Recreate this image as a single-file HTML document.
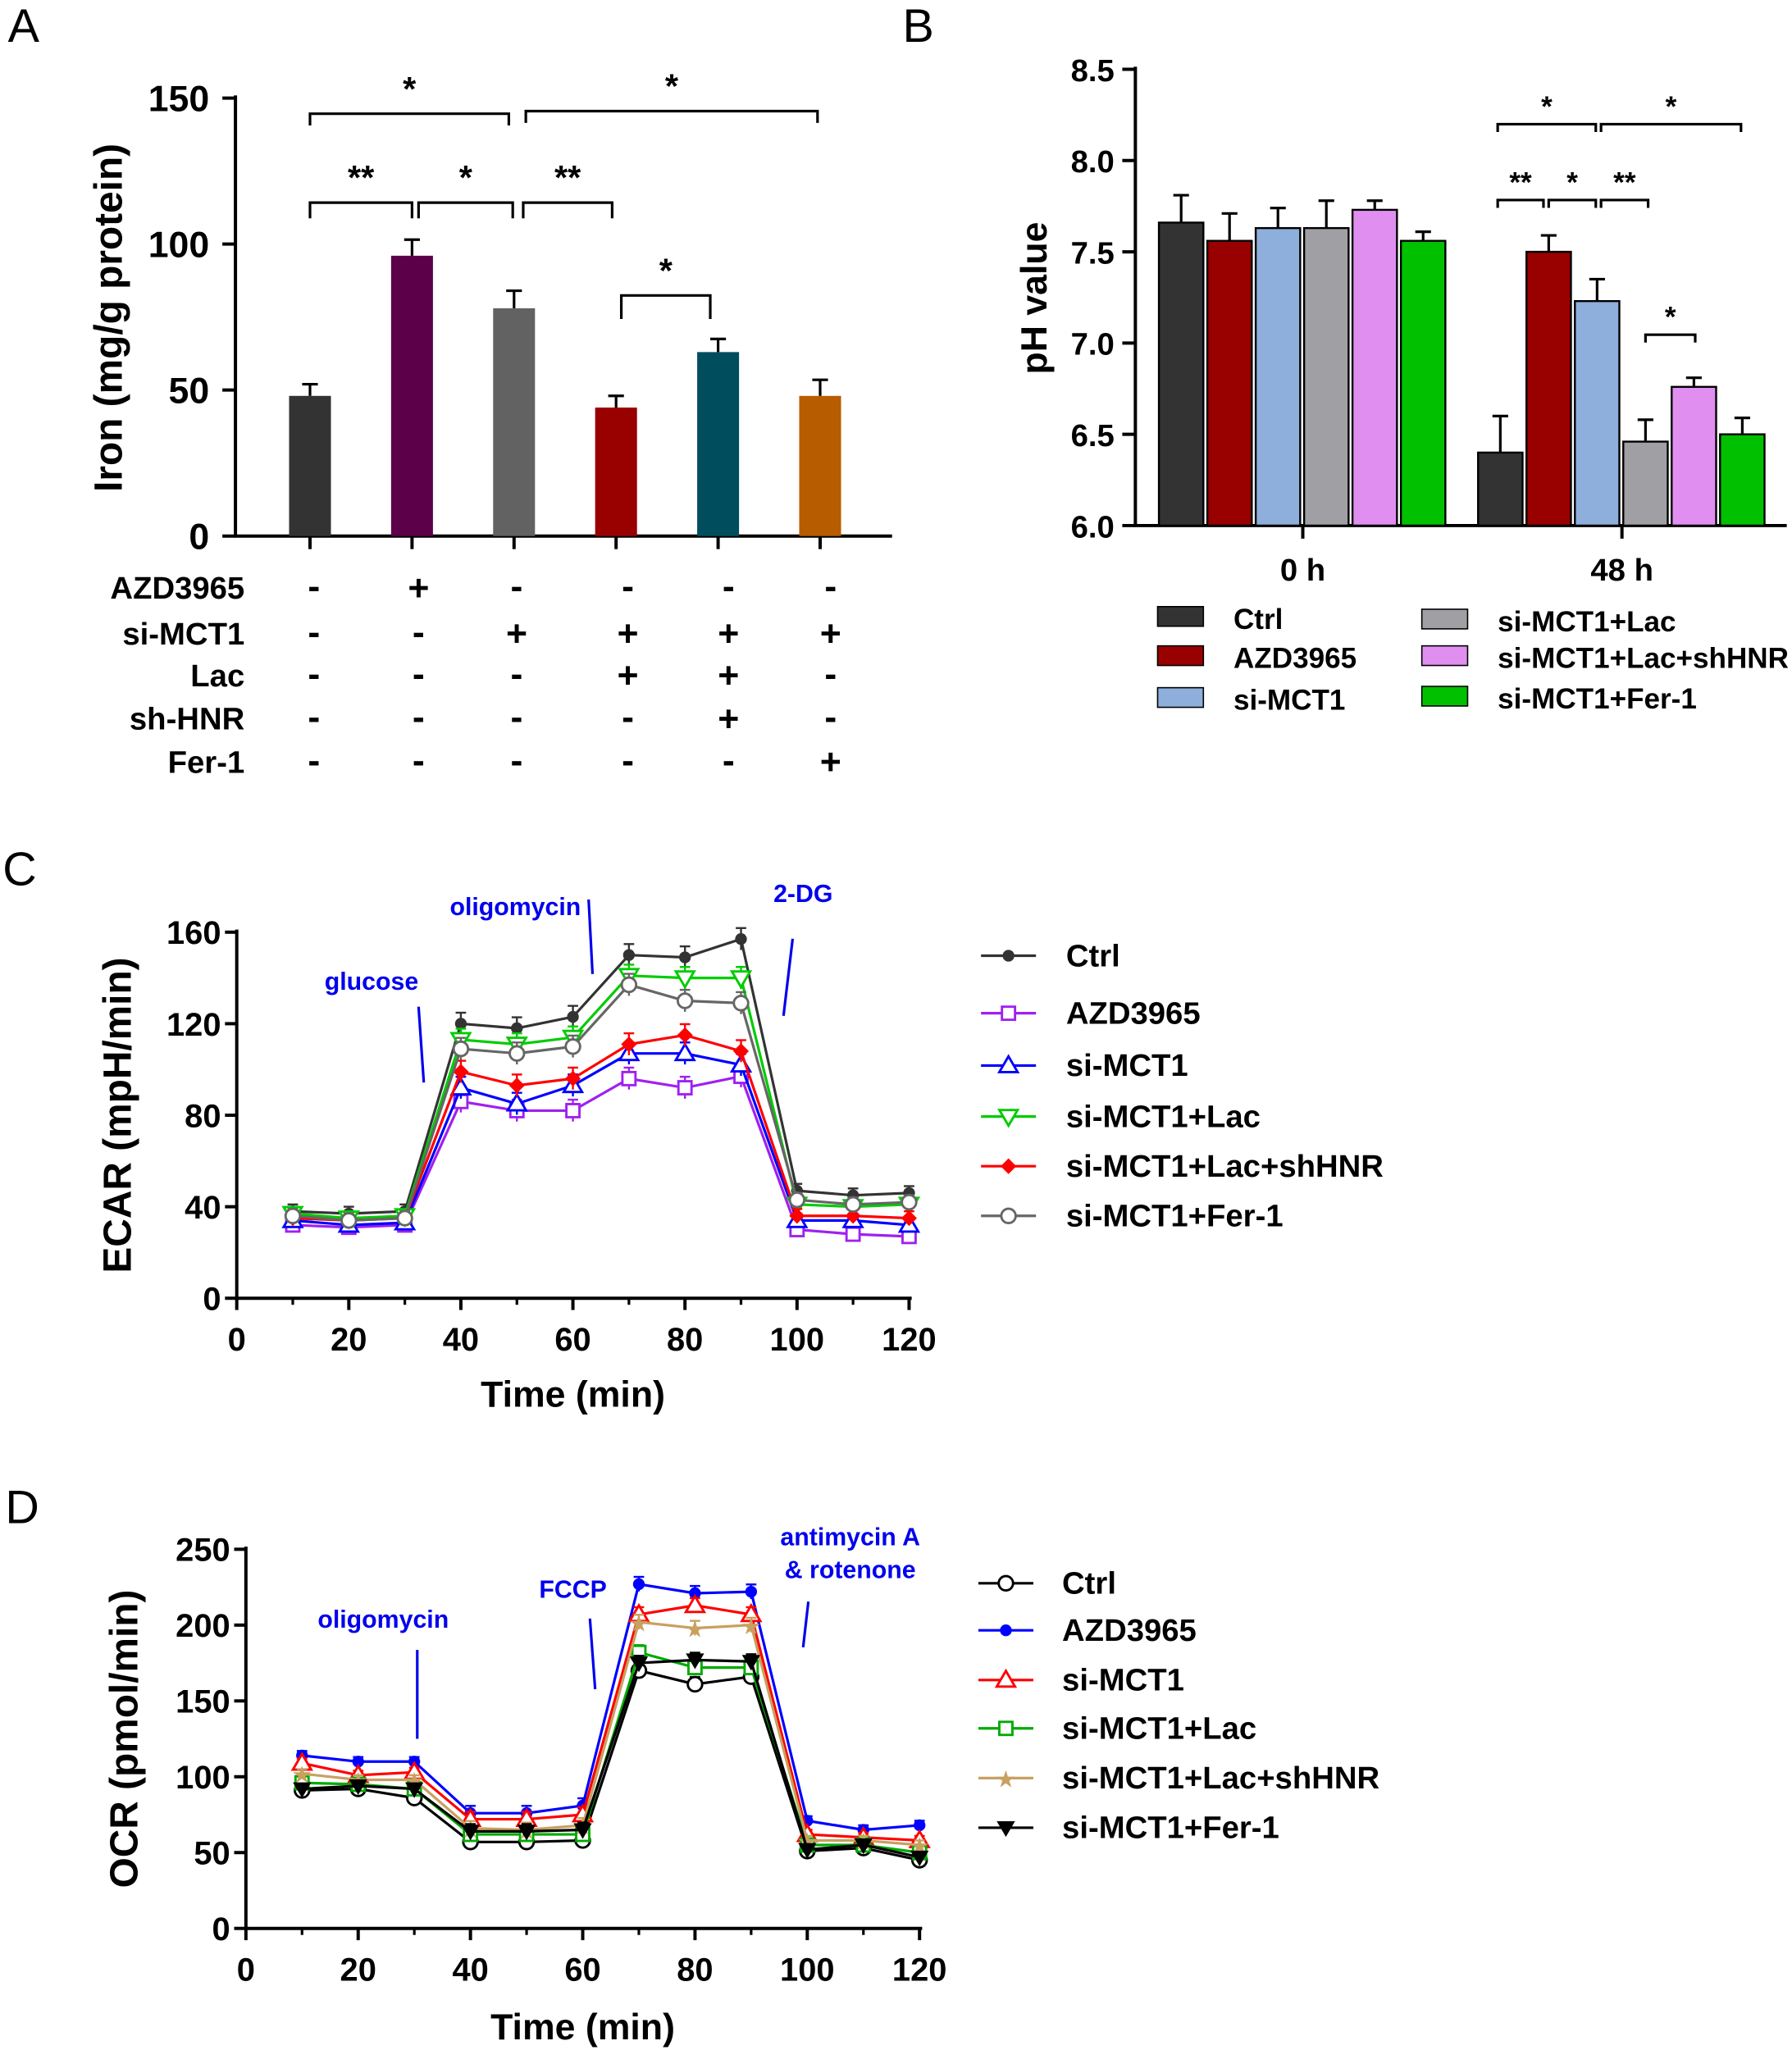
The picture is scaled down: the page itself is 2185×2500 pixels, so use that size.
<!DOCTYPE html>
<html><head><meta charset="utf-8"><style>
html,body{margin:0;padding:0;background:#fff;}
svg{display:block;}
text{font-family:"Liberation Sans",Arial,sans-serif;}
.b{font-weight:bold;}
</style></head><body>
<svg id="s" width="2185" height="2500" viewBox="0 0 1370 1568" preserveAspectRatio="none" xmlns="http://www.w3.org/2000/svg">
<rect width="1370" height="1568" fill="#fff"/>
<g font-size="36" fill="#000">
<text x="6" y="32">A</text><text x="690" y="32">B</text><text x="2" y="677">C</text><text x="4" y="1165">D</text>
</g>
<g id="A" stroke="#000" stroke-width="2.5" fill="none"></g>
<g id="B" stroke="#000" stroke-width="2.5" fill="none"></g>
<g id="C"></g>
<g id="D"></g>
</svg>
<script>
const NS="http://www.w3.org/2000/svg";
const S=document.getElementById('s');
function el(t,a,p,txt){const e=document.createElementNS(NS,t);for(const k in a)e.setAttribute(k,a[k]);if(txt!==undefined)e.textContent=txt;(p||S).appendChild(e);return e;}
function line(x1,y1,x2,y2,c,w,p){return el('line',{x1,y1,x2,y2,stroke:c||'#000','stroke-width':w||2.5},p);}
function txt(x,y,s,size,anchor,p,extra){const a={x,y,'font-size':size,'text-anchor':anchor||'middle','font-weight':'bold',fill:'#000'};Object.assign(a,extra||{});return el('text',a,p,s);}
// ---------- Panel A
(function(){
const y=v=>410-v*(335/150);
line(180,73,180,411);line(179,410,682,410);
[[0,'0'],[50,'50'],[100,'100'],[150,'150']].forEach(([v,l])=>{line(170,y(v),180,y(v));txt(160,y(v)+10,l,28,'end');});
const cx=[237,315,393,471,549,627],vals=[48,96,78,44,63,48],err=[4,5.5,6,4,4.5,5.5],
cols=['#333333','#5c004a','#626262','#990000','#004d5e','#b85c00'];
cx.forEach((c,i)=>{line(c,410,c,420);el('rect',{x:c-16,y:y(vals[i]),width:32,height:410-y(vals[i]),fill:cols[i]});
line(c,y(vals[i]),c,y(vals[i]+err[i]),'#000',2);line(c-6,y(vals[i]+err[i]),c+6,y(vals[i]+err[i]),'#000',2);});
el('text',{x:93,y:243,'font-size':30,'font-weight':'bold','text-anchor':'middle',transform:'rotate(-90 93 243)'},S,'Iron (mg/g protein)');
function br(x1,x2,yy,d,l){el('polyline',{points:`${x1},${yy+d} ${x1},${yy} ${x2},${yy} ${x2},${yy+d}`,fill:'none',stroke:'#000','stroke-width':2});txt((x1+x2)/2,yy-10,l,26);}
br(237,389,87,9,'*');br(402,625,85,9,'*');br(237,315,155,12,'**');br(320,392,155,12,'*');br(400,468,155,12,'**');br(475,543,226,18,'*');
const rows=[['AZD3965',450,['-','+','-','-','-','-']],['si-MCT1',485,['-','-','+','+','+','+']],['Lac',517,['-','-','-','+','+','-']],['sh-HNR',550,['-','-','-','-','+','-']],['Fer-1',583,['-','-','-','-','-','+']]];
const colx=[240,320,395,480,557,635];
rows.forEach(r=>{txt(187,r[1]+8,r[0],24,'end');r[2].forEach((s,i)=>txt(colx[i],r[1]+(s=='+'?9:8),s,28));});
})();
// ---------- Panel B
(function(){
const y=v=>402-(v-6)*139.6;
line(868,51,868,403);line(867,402,1366,402);
['6.0','6.5','7.0','7.5','8.0','8.5'].forEach(l=>{const v=+l;line(858,y(v),868,y(v));txt(852,y(v)+9,l,24,'end');});
line(996,402,996,412);line(1240,402,1240,412);
txt(996,444,'0 h',24);txt(1240,444,'48 h',24);
el('text',{x:800,y:228,'font-size':28,'font-weight':'bold','text-anchor':'middle',transform:'rotate(-90 800 228)'},S,'pH value');
const cols=['#333333','#990000','#8eaedb','#a0a0a4','#e08ff0','#00c000'];
const g=[[[903,940,977,1014,1051,1088],[7.66,7.56,7.63,7.63,7.73,7.56],[.15,.15,.11,.15,.05,.05]],
[[1147,1184,1221,1258,1295,1332],[6.40,7.50,7.23,6.46,6.76,6.50],[.2,.09,.12,.12,.05,.09]]];
g.forEach(([cx,v,e])=>cx.forEach((c,i)=>{el('rect',{x:c-17,y:y(v[i]),width:34,height:402-y(v[i]),fill:cols[i],stroke:'#000','stroke-width':1.5});
line(c,y(v[i]),c,y(v[i]+e[i]),'#000',2);line(c-6,y(v[i]+e[i]),c+6,y(v[i]+e[i]),'#000',2);}));
function br(x1,x2,yy,d,l){el('polyline',{points:`${x1},${yy+d} ${x1},${yy} ${x2},${yy} ${x2},${yy+d}`,fill:'none',stroke:'#000','stroke-width':2});txt((x1+x2)/2,yy-6,l,22);}
br(1145,1220,95,6,'*');br(1224,1331,95,6,'*');br(1145,1180,153,6,'**');br(1184,1220,153,6,'*');br(1224,1260,153,6,'**');br(1258,1296,256,6,'*');
const L=[['Ctrl',885,473,0],['AZD3965',885,503,1],['si-MCT1',885,535,2],['si-MCT1+Lac',1087,475,3],['si-MCT1+Lac+shHNR',1087,503,4],['si-MCT1+Fer-1',1087,534,5]];
L.forEach(([t,x,yy,i])=>{el('rect',{x,y:yy-9,width:35,height:15,fill:cols[i],stroke:'#000','stroke-width':1});txt(x+58,yy+8,t,22,'start');});
})();
// ---------- line charts
function marker(p,type,x,y,c){
 if(type=='fc')el('circle',{cx:x,cy:y,r:4.5,fill:c},p);
 if(type=='oc')el('circle',{cx:x,cy:y,r:5.5,fill:'#fff',stroke:c,'stroke-width':1.8},p);
 if(type=='os')el('rect',{x:x-5,y:y-5,width:10,height:10,fill:'#fff',stroke:c,'stroke-width':1.8},p);
 if(type=='ot')el('polygon',{points:`${x},${y-7} ${x-7},${y+5} ${x+7},${y+5}`,fill:'#fff',stroke:c,'stroke-width':1.8},p);
 if(type=='ov')el('polygon',{points:`${x},${y+7} ${x-7},${y-5} ${x+7},${y-5}`,fill:'#fff',stroke:c,'stroke-width':1.8},p);
 if(type=='fv')el('polygon',{points:`${x},${y+7} ${x-7},${y-5} ${x+7},${y-5}`,fill:c},p);
 if(type=='fd')el('polygon',{points:`${x},${y-6} ${x-6},${y} ${x},${y+6} ${x+6},${y}`,fill:c},p);
 if(type=='st')el('text',{x,y:y+7,'font-size':18,'text-anchor':'middle',fill:c},p,'★');
}
function chart(id,o){
 const p=document.getElementById(id);
 const X=t=>o.x0+t*(o.x1-o.x0)/120, Y=v=>o.yb-v*(o.yb-o.yt)/o.ymax;
 line(o.x0,o.yt-2,o.x0,o.yb+1,'#000',2.5,p);line(o.x0-1,o.yb,o.x1+2,o.yb,'#000',2.5,p);
 for(let v=0;v<=o.ymax;v+=o.ystep){line(o.x0-9,Y(v),o.x0,Y(v),'#000',2.5,p);txt(o.x0-12,Y(v)+9,''+v,25,'end',p);}
 for(let t=0;t<=120;t+=20){line(X(t),o.yb,X(t),o.yb+9,'#000',2.5,p);txt(X(t),o.yb+40,''+t,25,'middle',p);}
 for(let t=10;t<120;t+=20)line(X(t),o.yb,X(t),o.yb+5,'#000',2,p);
 txt((o.x0+o.x1)/2,o.tl,'Time (min)',28,'middle',p);
 el('text',{x:o.yl,y:(o.yt+o.yb)/2,'font-size':30,'font-weight':'bold','text-anchor':'middle',transform:`rotate(-90 ${o.yl} ${(o.yt+o.yb)/2})`},p,o.ylab);
 o.series.forEach(s=>{
  const pts=s.d.map((v,i)=>[X(10+i*10),Y(v)]);
  el('polyline',{points:pts.map(q=>q.join(',')).join(' '),fill:'none',stroke:s.c,'stroke-width':2},p);
  pts.forEach((q,i)=>{const e=(s.e||3)*(i>=3&&i<=8?1.6:1);line(q[0],q[1]-e*(o.yb-o.yt)/o.ymax,q[0],q[1]+e*(o.yb-o.yt)/o.ymax,s.c,1.5,p);
   line(q[0]-4,q[1]-e*(o.yb-o.yt)/o.ymax,q[0]+4,q[1]-e*(o.yb-o.yt)/o.ymax,s.c,1.5,p);marker(p,s.m,q[0],q[1],s.c);});
 });
 o.series.forEach((s,i)=>{const yy=o.ly[i];line(o.lx0,yy,o.lx0+42,yy,s.c,2,p);marker(p,s.m,o.lx0+21,yy,s.c);txt(o.ltx,yy+8,s.n,24,'start',p);});
 o.ann.forEach(a=>{if(a.t)a.t.forEach((t,k)=>txt(a.x,a.y+k*25,t,19,'middle',p,{fill:'#0000ee'}));line(a.l[0],a.l[1],a.l[2],a.l[3],'#0000ee',2,p);});
}
chart('C',{x0:181,x1:695,yt:713,yb:993,ymax:160,ystep:40,tl:1076,yl:100,ylab:'ECAR  (mpH/min)',lx0:750,ltx:815,ly:[731,775,815,854,892,930],
series:[
{n:'Ctrl',c:'#333',m:'fc',d:[38,37,38,120,118,123,150,149,157,47,45,46]},
{n:'AZD3965',c:'#a020f0',m:'os',d:[32,31,32,86,82,82,96,92,97,30,28,27]},
{n:'si-MCT1',c:'#0000ff',m:'ot',d:[34,32,33,92,85,93,107,107,102,34,34,32]},
{n:'si-MCT1+Lac',c:'#00cc00',m:'ov',d:[37,35,36,113,111,114,141,140,140,41,40,41]},
{n:'si-MCT1+Lac+shHNR',c:'#ff0000',m:'fd',d:[35,34,35,99,93,96,111,115,108,36,36,35]},
{n:'si-MCT1+Fer-1',c:'#666',m:'oc',d:[36,34,35,109,107,110,137,130,129,43,41,42]}],
ann:[{t:['glucose'],x:284,y:757,l:[320,770,324,828]},{t:['oligomycin'],x:394,y:700,l:[450,688,453,745]},{t:['2-DG'],x:614,y:690,l:[606,718,599,777]}]});
chart('D',{x0:188,x1:703,yt:1185,yb:1475,ymax:250,ystep:50,tl:1560,yl:105,ylab:'OCR  (pmol/min)',lx0:748,ltx:812,ly:[1211,1247,1285,1322,1360,1398],
series:[
{n:'Ctrl',c:'#000',m:'oc',d:[91,92,86,57,57,58,170,161,166,51,53,45]},
{n:'AZD3965',c:'#0000ff',m:'fc',d:[114,110,110,76,76,81,227,221,222,71,65,68]},
{n:'si-MCT1',c:'#ff0000',m:'ot',d:[109,101,103,72,72,75,207,213,207,62,60,58]},
{n:'si-MCT1+Lac',c:'#00aa00',m:'os',d:[96,95,92,62,62,62,182,172,172,55,55,50]},
{n:'si-MCT1+Lac+shHNR',c:'#c8a060',m:'st',d:[102,98,98,66,65,68,202,198,200,58,58,55]},
{n:'si-MCT1+Fer-1',c:'#000',m:'fv',d:[92,94,92,64,64,65,175,177,176,52,55,47]}],
ann:[{t:['oligomycin'],x:293,y:1245,l:[319,1262,319,1330]},{t:['FCCP'],x:438,y:1222,l:[451,1238,455,1292]},{t:['antimycin A','& rotenone'],x:650,y:1182,l:[618,1225,614,1260]}]});
</script>
</body></html>
